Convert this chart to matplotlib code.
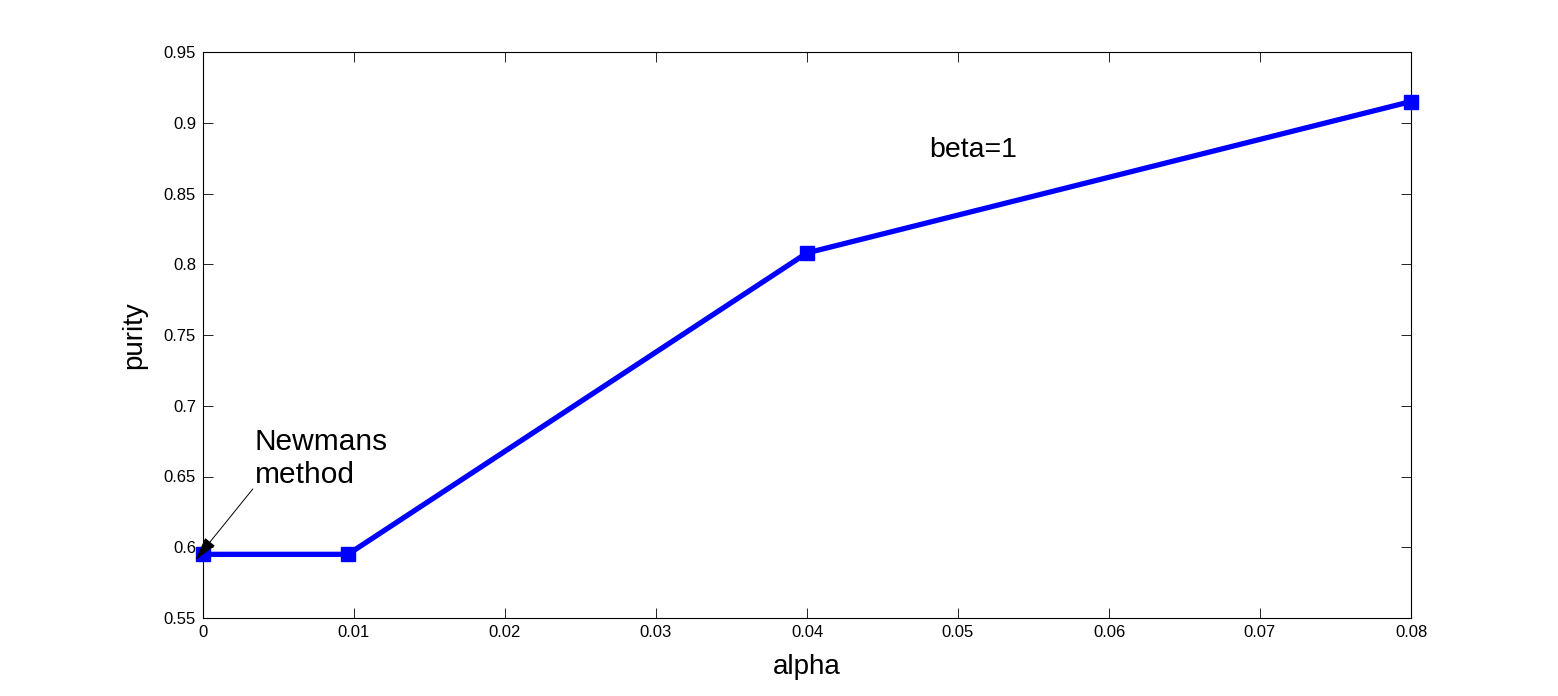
import matplotlib
matplotlib.use("Agg")
import matplotlib.pyplot as plt

plt.rcParams['font.family'] = ['Liberation Sans', 'DejaVu Sans']

alpha = [0.0, 0.0096, 0.04, 0.08]
purity = [0.595, 0.595, 0.808, 0.915]
xticks = [0, 0.01, 0.02, 0.03, 0.04, 0.05, 0.06, 0.07, 0.08]
yticks = [0.55, 0.6, 0.65, 0.7, 0.75, 0.8, 0.85, 0.9, 0.95]

fig = plt.figure(figsize=(15.58, 6.96), dpi=100)
ax = fig.add_axes([203/1558, 1 - 618/696, 1208/1558, 566/696])

ax.plot(alpha, purity, color='#0000ff', lw=3.8, marker='s', ms=10,
        clip_on=False, zorder=3)

ax.set_xlim(0, 0.08)
ax.set_ylim(0.55, 0.95)
ax.set_xticks(xticks)
ax.set_yticks(yticks)
ax.set_xticklabels([f"{t:g}" for t in xticks])
ax.set_yticklabels([f"{t:g}" for t in yticks])
ax.tick_params(direction='in', top=True, right=True, length=7, width=0.6,
               labelsize=12, pad=5)
for s in ax.spines.values():
    s.set_linewidth(0.8)

ax.set_xlabel("alpha", fontsize=20, labelpad=10)
ax.set_ylabel("purity", fontsize=20, labelpad=12)

ax.text(0.0481, 0.8758, "beta=1", fontsize=20.5)

# Newmans method label + arrow to the alpha=0 point
ax.text(0.00344, 0.6687, "Newmans", fontsize=21.5, va='baseline')
ax.text(0.00344, 0.6454, "method", fontsize=21.5, va='baseline')
ax.annotate("", xy=(-0.0005, 0.591), xytext=(0.0033, 0.6412),
            arrowprops=dict(arrowstyle='-|>,head_length=0.75,head_width=0.2',
                            color='black', lw=0.7, mutation_scale=20,
                            shrinkA=0, shrinkB=0),
            annotation_clip=False, zorder=4)

fig.savefig("out.png", dpi=100)
